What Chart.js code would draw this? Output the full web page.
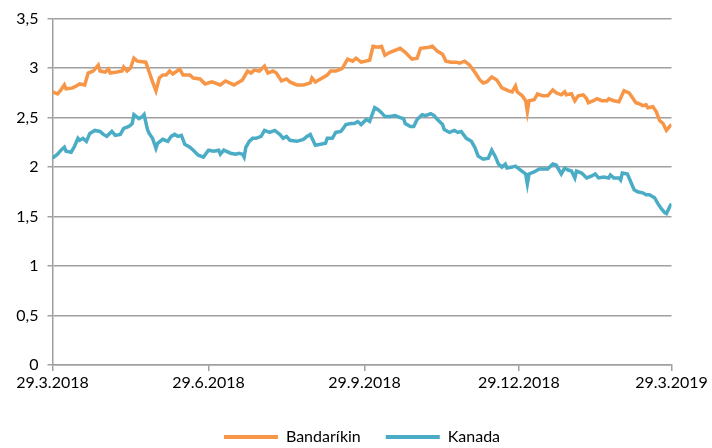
<!DOCTYPE html>
<html>
<head>
<meta charset="utf-8">
<script src="https://cdn.jsdelivr.net/npm/chart.js@4/dist/chart.umd.min.js"></script>
<style>
  html, body { margin: 0; padding: 0; background: #fff; }
  #wrap { width: 712px; height: 448px; }
</style>
</head>
<body>
<div id="wrap"><canvas id="c" width="712" height="448"></canvas></div>
<script>
// Day offsets counted from 29.3.2018
const seriesNames = ['Bandaríkin', 'Kanada'];
const tickDays = [0, 92, 184, 275, 365];
const tickLabels = ['29.3.2018', '29.6.2018', '29.9.2018', '29.12.2018', '29.3.2019'];
const yTicks = [0, 0.5, 1, 1.5, 2, 2.5, 3, 3.5];

const bandDays = [0,3,5,7,8,12,14,16,19,21,24,27,28,31,33,34,38,41,42,44,46,48,50,55,57,59,61,63,65,67,69,71,75,77,81,83,87,90,94,99,102,107,111,112,115,117,119,122,125,127,130,132,135,138,140,144,148,152,153,155,158,162,164,167,170,171,174,177,179,182,187,189,192,194,196,199,205,208,212,215,217,222,224,227,230,232,235,238,240,243,246,249,252,254,256,259,262,265,269,271,273,274,277,279,280,281,284,286,289,292,295,297,300,302,303,306,308,310,313,315,316,319,321,324,327,328,331,334,337,340,342,344,346,348,350,351,354,356,358,360,362,364,365];
const bandValues = [2.76,2.74,2.78,2.83,2.79,2.80,2.82,2.84,2.83,2.95,2.97,3.03,2.97,2.96,2.99,2.95,2.96,2.97,3.01,2.97,3.00,3.10,3.07,3.06,2.96,2.86,2.77,2.90,2.93,2.93,2.97,2.94,2.99,2.93,2.93,2.90,2.89,2.84,2.86,2.83,2.87,2.83,2.87,2.88,2.97,2.95,2.98,2.97,3.02,2.95,2.97,2.95,2.87,2.89,2.86,2.83,2.83,2.85,2.90,2.86,2.89,2.93,2.97,2.97,2.99,3.00,3.09,3.07,3.10,3.06,3.08,3.22,3.21,3.22,3.13,3.16,3.20,3.16,3.09,3.10,3.20,3.21,3.22,3.17,3.14,3.07,3.06,3.06,3.05,3.07,3.03,2.96,2.88,2.85,2.86,2.91,2.88,2.80,2.77,2.76,2.82,2.76,2.72,2.67,2.56,2.67,2.68,2.74,2.72,2.72,2.78,2.75,2.73,2.76,2.73,2.74,2.67,2.72,2.73,2.69,2.65,2.67,2.69,2.67,2.67,2.69,2.67,2.66,2.77,2.75,2.70,2.65,2.64,2.62,2.63,2.60,2.61,2.56,2.47,2.44,2.37,2.41,2.43];

const kanadaDays = [0,3,5,7,8,11,13,15,16,18,20,22,25,28,30,32,35,37,40,42,45,47,48,51,53,54,56,57,59,61,62,65,68,70,72,74,76,78,81,83,86,89,92,95,98,99,101,105,108,110,112,113,114,115,116,118,120,123,125,128,131,134,136,138,140,144,148,150,152,155,158,161,162,165,167,170,171,173,176,178,180,182,185,187,190,192,194,196,199,202,205,207,208,211,213,215,218,220,223,225,227,230,231,234,237,239,241,244,247,249,251,254,257,259,261,263,265,267,268,271,273,276,279,280,281,284,287,290,292,295,297,300,302,304,306,308,309,312,315,318,320,322,325,328,329,331,334,335,336,339,340,343,345,348,350,352,355,357,359,361,362,364,365];
const kanadaValues = [2.09,2.13,2.17,2.20,2.16,2.15,2.21,2.29,2.27,2.29,2.26,2.34,2.37,2.36,2.33,2.31,2.36,2.32,2.33,2.39,2.41,2.44,2.53,2.49,2.51,2.53,2.38,2.34,2.29,2.19,2.24,2.28,2.26,2.31,2.33,2.31,2.32,2.23,2.20,2.17,2.12,2.10,2.17,2.16,2.17,2.13,2.17,2.14,2.13,2.14,2.13,2.10,2.20,2.23,2.26,2.29,2.29,2.31,2.37,2.35,2.37,2.33,2.29,2.31,2.27,2.26,2.28,2.31,2.33,2.22,2.23,2.24,2.29,2.29,2.35,2.36,2.38,2.43,2.44,2.44,2.46,2.43,2.48,2.46,2.60,2.58,2.55,2.51,2.51,2.52,2.50,2.49,2.44,2.41,2.41,2.48,2.53,2.52,2.54,2.52,2.48,2.43,2.38,2.35,2.37,2.35,2.36,2.29,2.26,2.20,2.11,2.08,2.09,2.17,2.11,2.03,2.00,2.03,1.99,2.00,2.01,1.97,1.93,1.83,1.93,1.95,1.98,1.98,1.98,2.03,2.02,1.93,1.99,1.97,1.96,1.89,1.96,1.94,1.89,1.91,1.93,1.89,1.90,1.89,1.92,1.89,1.89,1.87,1.94,1.93,1.89,1.77,1.75,1.74,1.72,1.72,1.69,1.63,1.58,1.54,1.53,1.60,1.63];

const colors = ['#F79646', '#4BACC6'];

function toPoints(days, vals) {
  return days.map((d, i) => ({ x: d, y: vals[i] }));
}

const FONT = 'Lato, "Open Sans", sans-serif';
const FS = 16;
const gridColor = '#a0a0a0';

new Chart(document.getElementById('c'), {
  type: 'line',
  data: {
    datasets: [
      { label: seriesNames[0], data: toPoints(bandDays, bandValues), borderColor: colors[0], backgroundColor: colors[0], borderWidth: 3.5, pointRadius: 0, tension: 0, fill: false },
      { label: seriesNames[1], data: toPoints(kanadaDays, kanadaValues), borderColor: colors[1], backgroundColor: colors[1], borderWidth: 3.5, pointRadius: 0, tension: 0, fill: false }
    ]
  },
  options: {
    responsive: false,
    animation: false,
    layout: { padding: { top: 13, right: 40.5, left: 2, bottom: -7 } },
    plugins: {
      legend: {
        position: 'bottom',
        fullSize: false,
        labels: {
          font: { family: FONT, size: FS },
          color: '#000',
          boxWidth: 54,
          boxHeight: 4,
          padding: 25,
          generateLabels(chart) {
            return chart.data.datasets.map((ds, i) => ({
              text: ds.label, fillStyle: ds.borderColor, strokeStyle: ds.borderColor,
              lineWidth: 0, hidden: false, datasetIndex: i, fontColor: '#000'
            }));
          }
        }
      },
      tooltip: { enabled: false }
    },
    scales: {
      x: {
        type: 'linear',
        min: 0, max: 365,
        afterBuildTicks(axis) { axis.ticks = tickDays.map(v => ({ value: v })); },
        afterFit(axis) { axis.height = 39; },
        ticks: {
          autoSkip: false, maxRotation: 0,
          font: { family: FONT, size: FS }, color: '#000',
          padding: 2,
          callback(value) { const i = tickDays.indexOf(value); return i >= 0 ? tickLabels[i] : ''; }
        },
        grid: { drawOnChartArea: false, drawTicks: true, tickLength: 6, color: gridColor, lineWidth: 1.5 },
        border: { display: true, color: gridColor, width: 1.5 }
      },
      y: {
        min: 0, max: 3.5,
        afterBuildTicks(axis) { axis.ticks = yTicks.map(v => ({ value: v })); },
        afterFit(axis) { axis.width = 50.5; },
        ticks: {
          font: { family: FONT, size: FS }, color: '#000', padding: 9,
          callback(value) { return String(value).replace('.', ','); }
        },
        grid: { color: gridColor, lineWidth: 1.5, drawTicks: true, tickLength: 5 },
        border: { display: true, color: gridColor, width: 1.5 }
      }
    }
  }
});
</script>
</body>
</html>
